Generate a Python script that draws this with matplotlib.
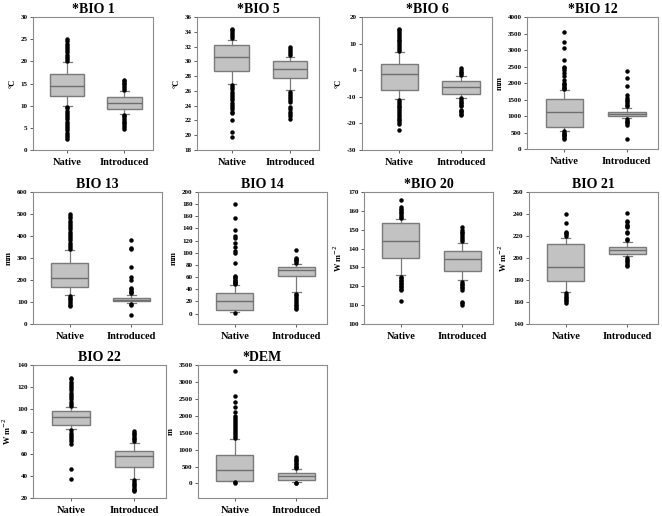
import matplotlib
matplotlib.use("Agg")
import matplotlib.pyplot as plt

plt.rcParams['font.family'] = ['Liberation Serif', 'DejaVu Serif']

groups = ['Native', 'Introduced']
titles = ['*BIO 1', '*BIO 5', '*BIO 6', '*BIO 12', 'BIO 13', 'BIO 14',
          '*BIO 20', 'BIO 21', 'BIO 22', '*DEM']
ylabels = ['°C', '°C', '°C', 'mm', 'mm', 'mm',
           r'W m$^{-2}$', r'W m$^{-2}$', r'W m$^{-2}$', 'm']
ylims = [(0, 30), (18, 36), (-30, 20), (0, 4000), (0, 600), (-17, 200),
         (100, 170), (140, 260), (20, 140), (-430, 3500)]
yticks = [range(0, 31, 5), range(18, 37, 2), range(-30, 21, 10), range(0, 4001, 500),
          range(0, 601, 100), range(0, 201, 20), range(100, 171, 10),
          range(140, 261, 20), range(20, 141, 20), range(0, 3501, 500)]

# box stats: [whisker low, q1, median, q3, whisker high]
bio1_nat = [9.9, 12.2, 14.5, 17.2, 19.8]
bio1_nat_out = [20.1, 20.5, 21.0, 21.5, 22.0, 22.5, 23.0, 23.5, 24.0, 24.5, 25.0,
                2.4, 2.9, 3.4, 3.9, 4.4, 4.9, 5.4, 5.9, 6.4, 6.9, 7.4, 7.9, 8.4, 8.9, 9.4, 9.7]
bio1_int = [8.1, 9.3, 10.7, 12.0, 13.4]
bio1_int_out = [13.6, 14.0, 14.4, 14.8, 15.2, 15.6, 15.9,
                4.8, 5.2, 5.6, 6.0, 6.4, 6.8, 7.2, 7.6, 7.9]

bio5_nat = [27.0, 28.7, 30.6, 32.2, 32.9]
bio5_nat_out = [33.1, 33.4, 33.7, 34.0, 34.2, 34.4,
                26.8, 26.5, 26.2, 25.9, 25.6, 25.3, 25.0, 24.7, 24.4, 24.1, 23.8, 23.5, 23.2, 23.0,
                22.0, 20.4, 19.8]
bio5_int = [26.1, 27.7, 29.0, 30.0, 30.6]
bio5_int_out = [30.8, 31.1, 31.4, 31.7, 32.0,
                25.9, 25.6, 25.3, 25.0, 24.7, 24.5,
                23.8, 23.5, 23.2, 22.9, 22.6, 22.2]

bio6_nat = [-10.8, -7.3, -1.3, 2.5, 6.9]
bio6_nat_out = [7.3, 8.0, 8.7, 9.4, 10.1, 10.8, 11.5, 12.2, 12.9, 13.6, 14.3, 15.0, 15.5,
                -11.2, -11.9, -12.6, -13.3, -14.0, -14.7, -15.4, -16.1, -16.8, -17.5,
                -18.2, -18.9, -19.6, -20.3, -22.3]
bio6_int = [-10.3, -8.8, -6.5, -3.9, -2.3]
bio6_int_out = [-1.9, -1.2, -0.5, 0.2, 0.7,
                -10.6, -11.2, -11.8, -12.4, -13.0, -13.4,
                -14.8, -15.3, -15.8, -16.3, -16.9]

bio12_nat = [560, 663, 1136, 1508, 1789]
bio12_nat_out = [1810, 1850, 1890, 1930, 1970, 2010, 2080, 2220, 2300, 2380, 2440,
                 2500, 2690, 3060, 3240, 3540,
                 540, 500, 460, 420, 380, 340, 300]
bio12_int = [935, 985, 1075, 1136, 1236]
bio12_int_out = [1290, 1340, 1390, 1440, 1480, 1540, 1630, 1910, 2150, 2370,
                 900, 860, 820, 780, 740, 290]

bio13_nat = [134, 169, 211, 278, 335]
bio13_nat_out = [340, 350, 360, 370, 380, 390, 400, 410, 420, 430, 440, 450, 460,
                 470, 480, 490, 500,
                 128, 120, 112, 104, 96, 88, 80]
bio13_int = [94, 103, 110, 118, 134]
bio13_int_out = [140, 146, 152, 158, 163, 200, 212, 258, 340, 346, 380, 92, 87, 41]

bio14_nat = [2.7, 6.6, 21.4, 34.0, 46.6]
bio14_nat_out = [48, 50, 52, 54, 56, 58, 60, 62, 84, 100, 103, 110, 116, 124, 128,
                 137, 158, 181, 1.8]
bio14_int = [35.6, 61.4, 72.3, 76.7, 82.0]
bio14_int_out = [84, 86, 88, 90, 92, 104,
                 33, 30, 27, 24, 21, 18, 15, 12, 9, 8]

bio20_nat = [125.9, 135.1, 143.8, 153.5, 155.6]
bio20_nat_out = [156.2, 157.0, 157.8, 158.6, 159.4, 160.2, 161.0, 161.8, 166.0,
                 125.0, 124.2, 123.4, 122.6, 121.8, 121.0, 120.2, 119.4, 118.6, 117.8, 112.0]
bio20_int = [123.4, 128.2, 134.6, 138.7, 143.1]
bio20_int_out = [144.0, 145.0, 146.0, 147.0, 148.0, 149.0, 150.0, 151.2,
                 122.2, 121.4, 120.6, 119.8, 119.0, 118.2, 111.5, 110.9, 110.3]

bio21_nat = [169, 179, 192, 213, 218]
bio21_nat_out = [220, 221.5, 223, 224, 232, 240,
                 168, 166.5, 165, 163.5, 162, 160.5, 159]
bio21_int = [201.4, 204, 207.5, 210, 214.6]
bio21_int_out = [216, 217, 223, 224, 228, 229, 230, 233, 234, 241,
                 200, 198.5, 197, 195.5, 194, 193]

bio22_nat = [82.0, 86.0, 92.7, 98.4, 101.7]
bio22_nat_out = [103, 105, 107, 109, 111, 113, 115, 117, 119, 121, 123, 125, 127, 128,
                 81, 79, 77, 75, 73, 71, 69, 46.5, 37.5]
bio22_int = [37.5, 47.7, 57.7, 62.8, 70.0]
bio22_int_out = [71.5, 73, 74.5, 76, 77.5, 79, 80.3,
                 36, 34.5, 33, 31.5, 30, 28.5, 27, 26]

dem_nat = [60, 79, 405, 841, 1305]
dem_nat_out = [1330, 1390, 1450, 1510, 1570, 1630, 1690, 1750, 1810, 1870, 1930, 1990,
               2100, 2245, 2410, 2590, 3310, 10, 30]
dem_int = [40, 109, 218, 316, 425]
dem_int_out = [450, 490, 530, 570, 610, 650, 690, 730, 770, 15, 25]

panels = [(bio1_nat, bio1_nat_out, bio1_int, bio1_int_out),
          (bio5_nat, bio5_nat_out, bio5_int, bio5_int_out),
          (bio6_nat, bio6_nat_out, bio6_int, bio6_int_out),
          (bio12_nat, bio12_nat_out, bio12_int, bio12_int_out),
          (bio13_nat, bio13_nat_out, bio13_int, bio13_int_out),
          (bio14_nat, bio14_nat_out, bio14_int, bio14_int_out),
          (bio20_nat, bio20_nat_out, bio20_int, bio20_int_out),
          (bio21_nat, bio21_nat_out, bio21_int, bio21_int_out),
          (bio22_nat, bio22_nat_out, bio22_int, bio22_int_out),
          (dem_nat, dem_nat_out, dem_int, dem_int_out)]

# axes boxes in pixels: left, top, right, bottom
W, H = 662, 516
boxes = [(33, 17, 153, 150), (197, 17, 319, 150), (362, 17, 492, 150), (527, 17, 658, 149),
         (33, 192, 162, 324), (198, 192, 327, 324), (364, 192, 493, 324), (529, 192, 658, 324),
         (33, 365, 166, 498), (198, 365, 327, 498)]

fig = plt.figure(figsize=(W / 100, H / 100), dpi=100)
edge = '#7a7a7a'

for i, (nat, nat_out, intr, intr_out) in enumerate(panels):
    l, t, r, b = boxes[i]
    ax = fig.add_axes([l / W, 1 - b / H, (r - l) / W, (b - t) / H])
    stats = []
    for s, out, lab in [(nat, nat_out, groups[0]), (intr, intr_out, groups[1])]:
        stats.append(dict(whislo=s[0], q1=s[1], med=s[2], q3=s[3], whishi=s[4],
                          fliers=out, label=lab))
    ax.bxp(stats, positions=[1, 2], widths=0.6, capwidths=0.15, patch_artist=True,
           boxprops=dict(facecolor='#c2c2c2', edgecolor=edge, linewidth=1.0),
           medianprops=dict(color='#6e6e6e', linewidth=1.0),
           whiskerprops=dict(color=edge, linewidth=0.9),
           capprops=dict(color=edge, linewidth=0.9),
           flierprops=dict(marker='o', markerfacecolor='black', markeredgecolor='black',
                           markersize=2.2, linestyle='none'))
    ax.set_xlim(0.4, 2.5)
    ax.set_ylim(*ylims[i])
    ax.set_yticks(list(yticks[i]))
    ax.set_yticklabels([str(v) for v in yticks[i]], fontsize=5, fontweight='bold')
    ax.set_xticks([1, 2])
    ax.set_xticklabels(groups, fontsize=7.5, fontweight='bold')
    ax.tick_params(axis='both', length=2, width=0.6, pad=2, color='#444444')
    ax.tick_params(axis='x', pad=4)
    for sp in ax.spines.values():
        sp.set_color('#8c8c8c')
        sp.set_linewidth(0.8)
    ax.set_title(titles[i], fontsize=10, fontweight='bold', pad=3)
    ax.set_ylabel(ylabels[i], fontsize=6, fontweight='bold', labelpad=3)

fig.savefig('out.png', dpi=100)
